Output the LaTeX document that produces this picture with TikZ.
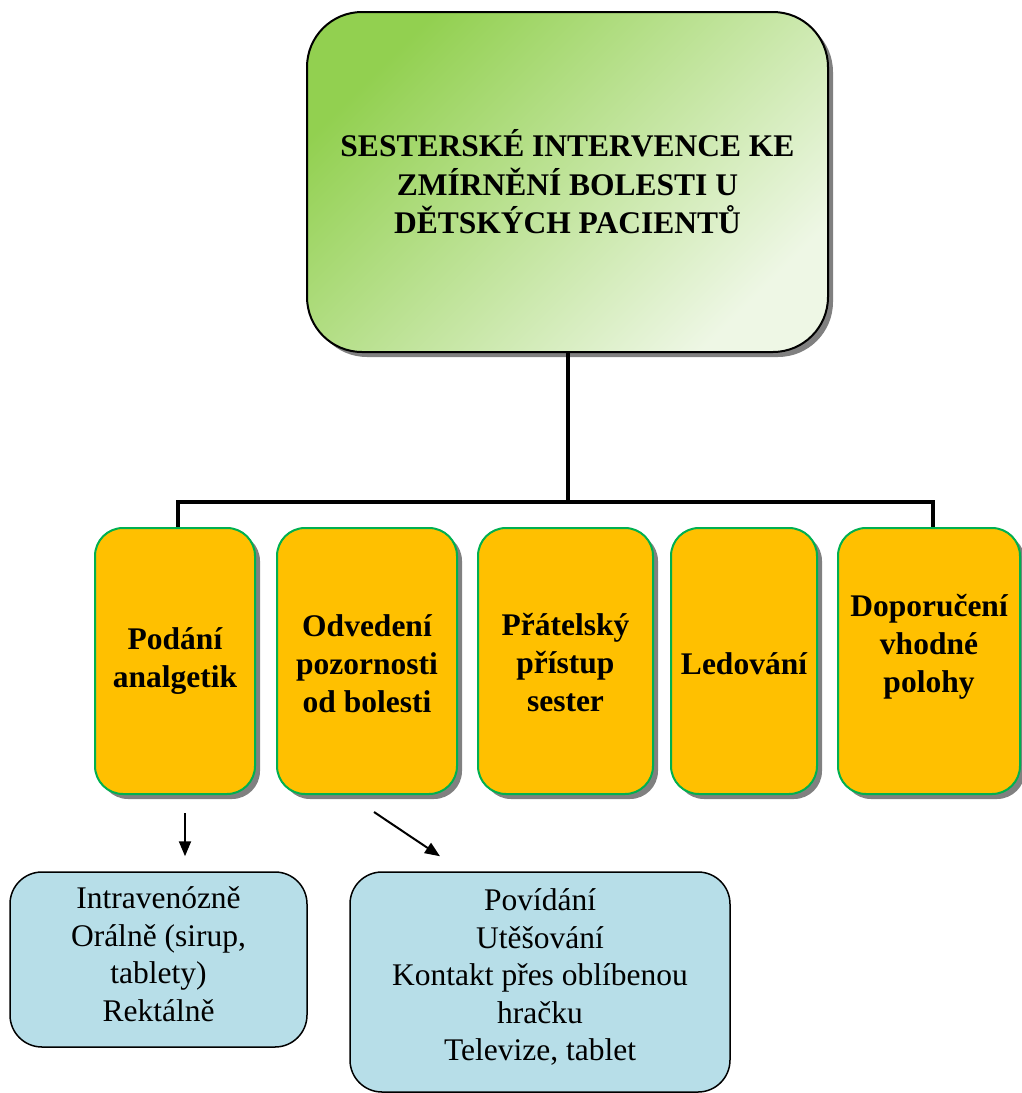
\documentclass[tikz,border=0pt]{standalone}
\usepackage{fontspec}
\setmainfont{Liberation Serif}
\usetikzlibrary{shadows,arrows.meta}
\definecolor{leafA}{RGB}{146,208,80}
\definecolor{leafB}{RGB}{238,247,229}
\definecolor{amber}{RGB}{255,192,0}
\definecolor{rimgreen}{RGB}{0,176,80}
\definecolor{paleblue}{RGB}{183,222,232}
\begin{document}
\begin{tikzpicture}[x=1pt,y=-1pt,
  castshadow/.style={drop shadow={shadow xshift=5pt,shadow yshift=-5pt,fill=black!50,opacity=1}},
  headbox/.style={draw=black,line width=2pt,rounded corners=55pt,
    minimum width=521pt,minimum height=340pt,inner sep=0pt,align=center,
    top color=leafA,bottom color=leafB,shading angle=45,
    font=\fontsize{31.5}{38.5}\selectfont\bfseries,castshadow},
  topicbox/.style={draw=rimgreen,line width=2pt,fill=amber,rounded corners=28pt,
    minimum height=266pt,inner sep=0pt,castshadow},
  topictext/.style={align=center,inner sep=0pt,font=\fontsize{31.5}{38}\selectfont\bfseries},
  detailbox/.style={draw=black,line width=1.5pt,fill=paleblue,rounded corners=32pt,inner sep=0pt},
  detailtext/.style={align=center,inner sep=0pt,font=\fontsize{31.5}{37.5}\selectfont},
  trunk/.style={line width=4pt},
  pointer/.style={line width=2pt,-{Triangle[length=15pt,width=12pt]}}]

\useasboundingbox (0,0) rectangle (1022,1093);

% main heading
\node[headbox] (head) at (567.5,182)
  {SESTERSKÉ INTERVENCE KE\\ZMÍRNĚNÍ BOLESTI U\\DĚTSKÝCH PACIENTŮ};

% intervention categories
\node[topicbox,minimum width=160pt] (pa) at (175,661) {};
\node[topictext] (pat) at (175,661) {Podání\\analgetik};
\node[topicbox,minimum width=180pt] (od) at (367,661) {};
\node[topictext] (odt) at (367,664) {Odvedení\\pozornosti\\od bolesti};
\node[topicbox,minimum width=175pt] (pr) at (565.5,661) {};
\node[topictext] (prt) at (565.5,663) {Přátelský\\přístup\\sester};
\node[topicbox,minimum width=146pt] (le) at (744,661) {};
\node[topictext] (let) at (744,664) {Ledování};
\node[topicbox,minimum width=182pt] (dp) at (929,661) {};
\node[topictext] (dpt) at (929,647) {Doporučení\\vhodné\\polohy};

% details
\node[detailbox,minimum width=297pt,minimum height=175pt] (iv) at (158.5,959.5) {};
\node[detailtext] (ivt) at (158.5,954)
  {Intravenózně\\Orálně (sirup,\\tablety)\\Rektálně};
\node[detailbox,minimum width=380pt,minimum height=220pt] (hr) at (540,982) {};
\node[detailtext] (hrt) at (540,977)
  {Povídání\\Utěšování\\Kontakt přes oblíbenou\\hračku\\Televize, tablet};

% tree connectors
\coordinate (fork) at (567.5,502);
\draw[trunk] (head.south) -- (fork);
\draw[trunk] ([xshift=3pt]pa.north) |- (fork) -| ([xshift=4pt]dp.north);

% arrows to details
\draw[pointer] ([xshift=10pt,yshift=-18pt]pa.south) -- ([xshift=26.5pt,yshift=15pt]iv.north);
\draw[pointer] ([xshift=7pt,yshift=-17pt]od.south) -- ([xshift=-100pt,yshift=15pt]hr.north);
\end{tikzpicture}
\end{document}
